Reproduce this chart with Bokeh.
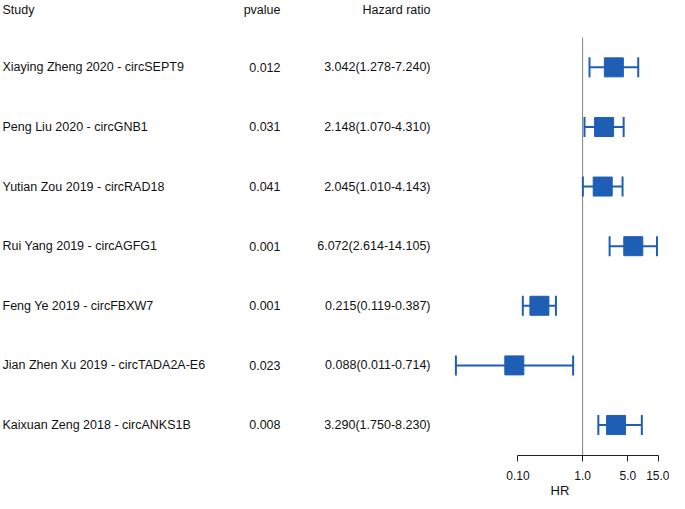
import numpy as np
from bokeh.plotting import figure
from bokeh.layouts import row
from bokeh.models import Range1d, ColumnDataSource, FixedTicker, CustomJSTickFormatter
from bokeh.core.properties import value
from bokeh.embed import file_html
from bokeh.resources import INLINE

studies = ["Xiaying Zheng 2020 - circSEPT9", "Peng Liu 2020 - circGNB1",
           "Yutian Zou 2019 - circRAD18", "Rui Yang 2019 - circAGFG1",
           "Feng Ye 2019 - circFBXW7", "Jian Zhen Xu 2019 - circTADA2A-E6",
           "Kaixuan Zeng 2018 - circANKS1B"]
pvalues = ["0.012", "0.031", "0.041", "0.001", "0.001", "0.023", "0.008"]
hr = [3.042, 2.148, 2.045, 6.072, 0.215, 0.088, 3.290]
hr_lo = [1.278, 1.070, 1.010, 2.614, 0.119, 0.011, 1.750]
hr_hi = [7.240, 4.310, 4.143, 14.105, 0.387, 0.714, 8.230]
headers = ["Study", "pvalue", "Hazard ratio"]
tick_values = [0.1, 1.0, 5.0, 15.0]
tick_labels = ["0.10", "1.0", "5.0", "15.0"]
axis_title = "HR"

FONT = "Liberation Sans"
BLUE = "#1F5EB5"
FS = "12.5px"

rows_y = list(range(len(studies)))
hr_text = [f"{h:.3f}({l:.3f}-{u:.3f})" for h, l, u in zip(hr, hr_lo, hr_hi)]

y_rng = Range1d(6.512, -1.122)
header_y = -0.96

# ---------- left: table ----------
left = figure(frame_width=450, frame_height=455, x_range=Range1d(0, 450), y_range=y_rng,
              output_backend="svg", toolbar_location=None,
              x_axis_location=None, y_axis_location=None, min_border=0,
              min_border_bottom=36)
left.outline_line_color = None
left.grid.visible = False

X_STUDY, X_P, X_HR = 2, 280, 430
src = ColumnDataSource(dict(y=rows_y, study=studies, p=pvalues, hrt=hr_text))
common = dict(text_font=value(FONT), text_font_size=FS, text_color="#111111",
              text_baseline="middle")
left.text(x=X_STUDY, y="y", text="study", source=src, text_align="left", **common)
left.text(x=X_P, y="y", text="p", source=src, text_align="right", **common)
left.text(x=X_HR, y="y", text="hrt", source=src, text_align="right", **common)
hsrc = ColumnDataSource(dict(x=[X_STUDY, X_P, X_HR], y=[header_y] * 3, t=headers,
                             a=["left", "right", "right"]))
left.text(x="x", y="y", text="t", text_align="a", source=hsrc, **common)

# ---------- right: forest ----------
right = figure(frame_width=219, frame_height=455, x_axis_type="log",
               x_range=Range1d(0.00908, 22.03), y_range=y_rng,
               output_backend="svg", toolbar_location=None,
               y_axis_location=None, min_border=0)
right.outline_line_color = None
right.grid.visible = False

right.segment(x0=[1], y0=[-0.5], x1=[1], y1=[7], line_color="#808080", line_width=1)

fsrc = ColumnDataSource(dict(y=rows_y, hr=hr, lo=hr_lo, hi=hr_hi))
right.segment(x0="lo", y0="y", x1="hi", y1="y", source=fsrc, line_color=BLUE, line_width=2)
right.scatter(x="lo", y="y", source=fsrc, marker="dash", angle=np.pi / 2, size=20,
              line_color=BLUE, line_width=2)
right.scatter(x="hi", y="y", source=fsrc, marker="dash", angle=np.pi / 2, size=20,
              line_color=BLUE, line_width=2)
right.scatter(x="hr", y="y", source=fsrc, marker="square", size=19,
              fill_color=BLUE, line_color=BLUE)

ax = right.xaxis[0]
ax.ticker = FixedTicker(ticks=tick_values)
ax.bounds = (min(tick_values), max(tick_values))
ax.formatter = CustomJSTickFormatter(args=dict(vals=tick_values, labs=tick_labels), code="""
const i = vals.findIndex(v => Math.abs(v - tick) < 1e-9 * Math.max(1, v));
return i >= 0 ? labs[i] : '';
""")
ax.minor_tick_line_color = None
ax.major_tick_in = 0
ax.major_tick_out = 6
ax.axis_line_color = "#222222"
ax.major_tick_line_color = "#222222"
ax.major_label_text_font = FONT
ax.major_label_text_font_size = "12px"
ax.major_label_text_color = "#111111"
ax.major_label_standoff = 9
ax.axis_label = axis_title
ax.axis_label_text_font = FONT
ax.axis_label_text_font_size = "13px"
ax.axis_label_text_font_style = "normal"
ax.axis_label_text_color = "#111111"
ax.axis_label_standoff = 0

layout = row(left, right)
open("out.html", "w").write(file_html(layout, INLINE))
